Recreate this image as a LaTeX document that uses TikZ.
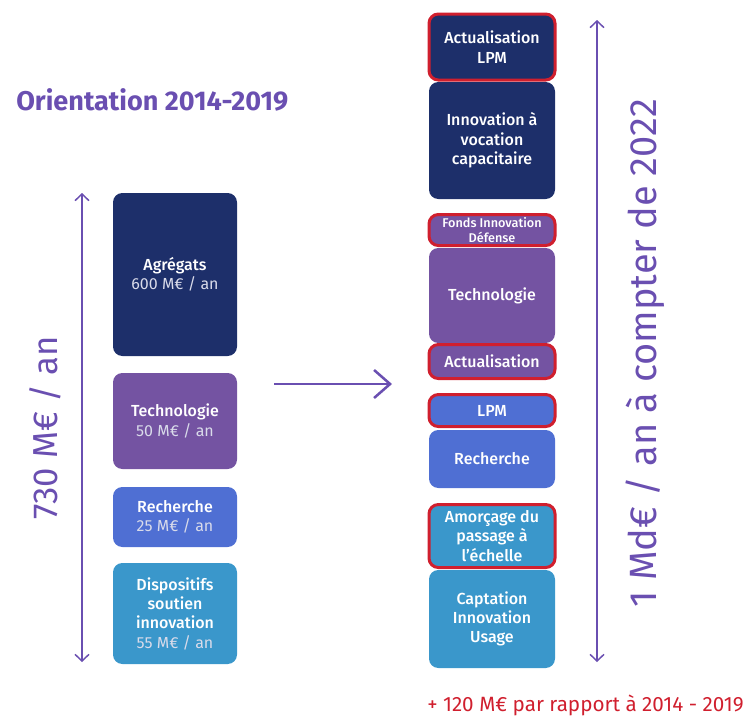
\documentclass[tikz,border=0pt]{standalone}
\usepackage{fontspec}
\setmainfont{Fira Sans}
\newfontfamily\moyen{Fira Sans Medium}
\usetikzlibrary{arrows.meta}
\definecolor{marine}{HTML}{1D2F6A}
\definecolor{violet}{HTML}{7453A2}
\definecolor{bleu}{HTML}{4F6FD3}
\definecolor{ciel}{HTML}{3A97CB}
\definecolor{rouge}{HTML}{D01F2E}
\definecolor{mauve}{HTML}{6A4FB1}
\definecolor{pale}{HTML}{D9DBEA}
\tikzstyle{bloc} = [rectangle, rounded corners=7pt, inner sep=0pt, outer sep=0pt, text=white, align=center, font=\moyen\fontsize{12}{14.5}\selectfont]
\tikzstyle{gauche} = [bloc, minimum width=93pt]
\tikzstyle{droite} = [bloc, minimum width=94.5pt]
\tikzstyle{encadre} = [draw=rouge, line width=2.25pt]
\tikzstyle{fleche} = [draw=mauve, line width=1.1pt, >={Straight Barb[length=5pt,width=10.5pt]}, <->]

\begin{document}
\begin{tikzpicture}[x=0.75pt, y=-0.75pt]

        \useasboundingbox (0,0) rectangle (752,715);

        \node (titre) [anchor=west, inner sep=0pt, text=mauve, font=\fontsize{20.3}{23}\selectfont\bfseries] at (16,100) {Orientation 2014-2019};

        \node (agregats) [gauche, fill=marine, minimum height=122.25pt, anchor=north west] at (113,193) {Agrégats\\{\normalfont\fontsize{12}{14.5}\selectfont\color{pale}600 M€ / an}};
        \node (techno) [gauche, fill=violet, minimum height=72pt, anchor=north west] at (113,373) {Technologie\\{\normalfont\fontsize{12}{14.5}\selectfont\color{pale}50 M€ / an}};
        \node (recherche) [gauche, fill=bleu, minimum height=45pt, anchor=north west] at (113,487) {Recherche\\{\normalfont\fontsize{12}{14.5}\selectfont\color{pale}25 M€ / an}};
        \node (dispositifs) [gauche, fill=ciel, minimum height=75.75pt, anchor=north west] at (113,563) {Dispositifs\\soutien\\innovation\\{\normalfont\fontsize{12}{14.5}\selectfont\color{pale}55 M€ / an}};

        \coordinate (g1) at (82,193);
        \coordinate (g2) at (82,662);
        \draw [fleche] (g1) -- (g2);
        \node (total) [rotate=90, inner sep=0pt, text=mauve, font=\fontsize{26}{30}\selectfont] at (45,428) {730 M€ / an};

        \coordinate (m1) at (274,384);
        \coordinate (m2) at (392,384);
        \draw [draw=mauve, line width=1.9pt, -{Straight Barb[length=12pt,width=21pt]}] (m1) -- (m2);

        \node (actuLPM) [droite, encadre, fill=marine, minimum height=49.5pt, anchor=north west] at (429,14) {Actualisation\\LPM};
        \node (innovation) [droite, fill=marine, minimum height=87.75pt, anchor=north west] at (429,82) {Innovation à\\vocation\\capacitaire};
        \node (fonds) [droite, encadre, fill=violet, minimum height=23.25pt, anchor=north west, font=\moyen\fontsize{9.5}{11}\selectfont] at (429,214.5) {Fonds Innovation\\Défense};
        \node (techno2) [droite, fill=violet, minimum height=71.25pt, anchor=north west] at (429,248) {Technologie};
        \node (actu) [droite, encadre, fill=violet, minimum height=25.5pt, anchor=north west] at (429,344.5) {Actualisation};
        \node (lpm) [droite, encadre, fill=bleu, minimum height=24pt, anchor=north west] at (429,394.5) {LPM};
        \node (recherche2) [droite, fill=bleu, minimum height=43.5pt, anchor=north west] at (429,430) {Recherche};
        \node (amorcage) [droite, encadre, fill=ciel, minimum height=47.25pt, anchor=north west] at (429,504.5) {Amorçage du\\passage à\\l’échelle};
        \node (captation) [droite, fill=ciel, minimum height=73.5pt, anchor=north west] at (429,570) {Captation\\Innovation\\Usage};

        \coordinate (d1) at (597,20);
        \coordinate (d2) at (597,662);
        \draw [fleche] (d1) -- (d2);
        \node (cible) [rotate=90, inner sep=0pt, text=mauve, font=\fontsize{28.5}{32}\selectfont] at (645,353) {1 Md€ / an à compter de 2022};

        \node (ecart) [anchor=west, inner sep=0pt, text=rouge, font=\fontsize{15.5}{18}\selectfont] at (427,705) {+ 120 M€ par rapport à 2014 - 2019};

\end{tikzpicture}
\end{document}
